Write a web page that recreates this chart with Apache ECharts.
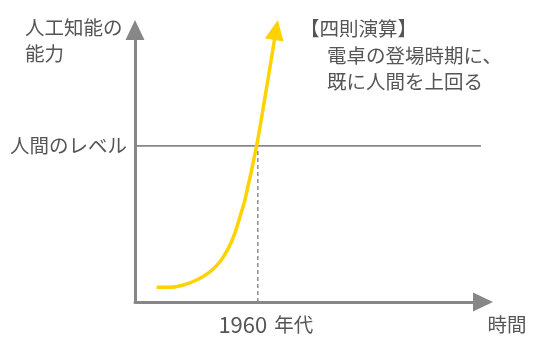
<!DOCTYPE html>
<html>
<head>
<meta charset="utf-8">
<script src="https://cdn.jsdelivr.net/npm/echarts@6/dist/echarts.min.js"></script>
<style>
html,body{margin:0;padding:0;background:#fff;}
#chart{width:545px;height:347px;}
</style>
</head>
<body>
<div id="chart"></div>
<script>
// Data (abstract units)
const years = [1910.6, 1917.1, 1923.6, 1930.1, 1936.6, 1941.5, 1945.6, 1948.8, 1951.3, 1953.7, 1959.4, 1963.3, 1968.9];
const ability = [5.4, 5.4, 6.25, 8.1, 11.1, 14.8, 19.7, 25.3, 31.4, 37.5, 57.4, 74.3, 100];
const humanLevel = 57.4;
const markYear = 1960;
const xRange = [1900, 2070];
const humanLineRange = [1900, 2069];
const yLabel = '人間のレベル';
const xLabelNum = '1960';
const xLabelUnit = '年代';
const yName = '人工知能の\n能力';
const xName = '時間';
const noteTitle = '【四則演算】';
const noteLines = ['電卓の登場時期に、', '既に人間を上回る'];

const FONT = '"Noto Sans CJK JP", "Noto Sans", sans-serif';
const TXT = '#555';
const GRAY = '#878787';
const YEL = '#FFD200';
const FS = 19.5;

const curveData = years.map((x, i) => {
  if (i === years.length - 1) {
    return { value: [x, ability[i]], symbol: 'triangle', symbolSize: [19, 20], symbolRotate: -10, itemStyle: { color: YEL } };
  }
  return { value: [x, ability[i]], symbol: 'none' };
});

const chart = echarts.init(document.getElementById('chart'), null, { renderer: 'canvas' });
chart.setOption({
  animation: false,
  grid: { left: 135, right: 62, top: 30, bottom: 45, containLabel: false },
  xAxis: {
    type: 'value', min: xRange[0], max: xRange[1],
    splitLine: { show: false },
    axisTick: { show: false },
    axisLine: { show: true, symbol: ['none', 'triangle'], symbolSize: [19, 20], lineStyle: { color: GRAY, width: 3 } },
    axisLabel: {
      customValues: [markYear],
      formatter: () => '{n|' + xLabelNum + '}{u|' + xLabelUnit + '}',
      margin: 12, color: TXT, fontFamily: FONT, padding: [0, 0, 0, 16],
      rich: {
        n: { fontSize: 22, fontFamily: FONT, color: TXT },
        u: { fontSize: FS, fontFamily: FONT, color: TXT, padding: [0, 0, 0, 7] }
      }
    }
  },
  yAxis: {
    type: 'value', min: 0, max: 100,
    splitLine: { show: false },
    axisTick: { show: false },
    axisLine: { show: true, symbol: ['none', 'triangle'], symbolSize: [19, 20], lineStyle: { color: GRAY, width: 3 } },
    axisLabel: { customValues: [humanLevel], formatter: () => yLabel, margin: 8, color: TXT, fontSize: FS, fontFamily: FONT }
  },
  series: [
    {
      type: 'line', name: 'human', silent: true, symbol: 'none', z: 1,
      data: [[humanLineRange[0], humanLevel], [humanLineRange[1], humanLevel]],
      lineStyle: { color: GRAY, width: 1.6 }
    },
    {
      type: 'line', name: 'mark', silent: true, symbol: 'none', z: 1,
      data: [[markYear, 0], [markYear, humanLevel - 1.2]],
      lineStyle: { color: GRAY, width: 1.4, type: [4, 3] }
    },
    {
      type: 'line', name: 'AI', silent: true, z: 3, clip: false,
      smooth: 0.25,
      symbol: 'none',
      data: curveData,
      lineStyle: { color: YEL, width: 3.5 },
      itemStyle: { color: YEL }
    }
  ],
  graphic: [
    { type: 'text', x: 25, y: 41, style: { text: yName, font: FS + 'px ' + FONT, fill: TXT, lineHeight: 26, verticalAlign: 'middle', align: 'left' } },
    { type: 'text', x: 507, y: 325, style: { text: xName, font: FS + 'px ' + FONT, fill: TXT, verticalAlign: 'middle', align: 'center' } },
    { type: 'text', x: 300, y: 29, style: { text: noteTitle, font: FS + 'px ' + FONT, fill: TXT, verticalAlign: 'middle', align: 'left' } },
    { type: 'text', x: 327, y: 56, style: { text: noteLines[0], font: FS + 'px ' + FONT, fill: TXT, verticalAlign: 'middle', align: 'left' } },
    { type: 'text', x: 327, y: 82, style: { text: noteLines[1], font: FS + 'px ' + FONT, fill: TXT, verticalAlign: 'middle', align: 'left' } }
  ]
});
</script>
</body>
</html>
